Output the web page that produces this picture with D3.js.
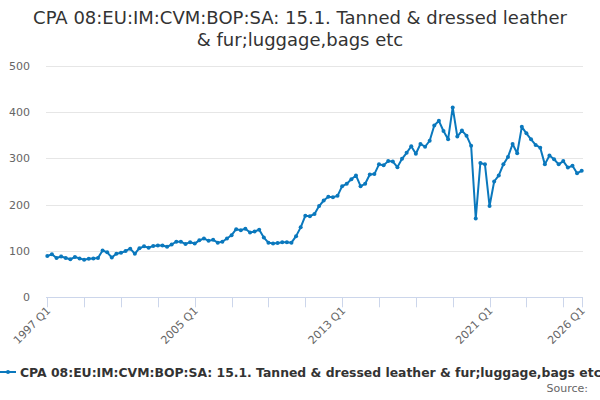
<!DOCTYPE html>
<html>
<head>
<meta charset="utf-8">
<script src="https://cdn.jsdelivr.net/npm/d3@7"></script>
<style>
  body { margin: 0; background: #fff; overflow: hidden; }
  svg { font-family: "DejaVu Sans", sans-serif; display: block; }
</style>
</head>
<body>
<div id="chart"></div>
<script>
const width = 600;
const height = 400;

const titleLines = [
  "CPA 08:EU:IM:CVM:BOP:SA: 15.1. Tanned & dressed leather",
  "& fur;luggage,bags etc"
];
const seriesName = "CPA 08:EU:IM:CVM:BOP:SA: 15.1. Tanned & dressed leather & fur;luggage,bags etc";

const startYear = 1997;
// quarterly values, 1997 Q1 onwards
const values = [
  89, 93, 85, 88, 85, 82, 87, 84, 81, 83, 84, 85,
  101, 97, 86, 94, 96, 100, 105, 94, 106, 110, 107, 111,
  112, 112, 109, 114, 120, 120, 115, 119, 116, 123, 127, 122,
  124, 118, 120, 127, 134, 147, 145, 148, 140, 142, 146, 129,
  118, 116, 117, 119, 119, 118, 132, 151, 176, 175, 180, 197,
  209, 217, 216, 219, 240, 245, 255, 263, 240, 245, 265, 266,
  287, 285, 294, 293, 281, 299, 312, 326, 310, 331, 325, 338,
  371, 381, 359, 341, 410, 347, 360, 349, 327, 170, 290, 287,
  197, 250, 263, 287, 303, 331, 311, 368, 354, 341, 329, 323,
  287, 306, 298, 287, 294, 280, 284, 268, 273
];
const yTicks = [0, 100, 200, 300, 400, 500];
const tickYears = [1997, 1999, 2001, 2003, 2005, 2007, 2009, 2011, 2013, 2015, 2017, 2019, 2021, 2023, 2025, 2026];
const labelYears = [1997, 2005, 2013, 2021, 2026];

const data = values.map((v, i) => ({ q: i, value: v }));
const qIndex = yr => (yr - startYear) * 4;

const plot = { left: 46, right: 583, top: 65.7, bottom: 297.3 };

const x = d3.scaleLinear()
  .domain([0, qIndex(2026)])
  .range([47.3, 581.7]);

const y = d3.scaleLinear()
  .domain([0, 500])
  .range([plot.bottom, plot.top]);

const svg = d3.select("#chart")
  .append("svg")
  .attr("width", width)
  .attr("height", height);

// title
svg.append("text")
  .attr("x", width / 2)
  .attr("text-anchor", "middle")
  .attr("fill", "#333333")
  .attr("font-size", "18px")
  .selectAll("tspan")
  .data(titleLines)
  .join("tspan")
  .attr("x", width / 2)
  .attr("y", (d, i) => 24 + i * 22)
  .text(d => d);

// gridlines
svg.append("g")
  .selectAll("line")
  .data(yTicks.filter(t => t > 0))
  .join("line")
  .attr("x1", plot.left)
  .attr("x2", plot.right)
  .attr("y1", d => Math.round(y(d)) + 0.5)
  .attr("y2", d => Math.round(y(d)) + 0.5)
  .attr("stroke", "#e6e6e6");

// y labels
svg.append("g")
  .selectAll("text")
  .data(yTicks)
  .join("text")
  .attr("x", 30)
  .attr("y", d => y(d) + 4)
  .attr("text-anchor", "end")
  .attr("fill", "#666666")
  .attr("font-size", "11px")
  .text(d => d);

// x axis
const xAxis = svg.append("g");
xAxis.append("line")
  .attr("x1", plot.left)
  .attr("x2", plot.right)
  .attr("y1", Math.round(plot.bottom) + 0.5)
  .attr("y2", Math.round(plot.bottom) + 0.5)
  .attr("stroke", "#ccd6eb");

xAxis.selectAll(".tick")
  .data(tickYears)
  .join("line")
  .attr("class", "tick")
  .attr("x1", d => Math.round(x(qIndex(d))) + 0.5)
  .attr("x2", d => Math.round(x(qIndex(d))) + 0.5)
  .attr("y1", plot.bottom)
  .attr("y2", plot.bottom + 10)
  .attr("stroke", "#ccd6eb");

xAxis.selectAll(".lbl")
  .data(labelYears)
  .join("text")
  .attr("class", "lbl")
  .attr("text-anchor", "end")
  .attr("fill", "#666666")
  .attr("font-size", "11px")
  .attr("transform", d => `translate(${x(qIndex(d)) + 4},${plot.bottom + 14}) rotate(-45)`)
  .text(d => `${d} Q1`);

// series line
const line = d3.line()
  .x(d => x(d.q))
  .y(d => y(d.value));

svg.append("path")
  .datum(data)
  .attr("fill", "none")
  .attr("stroke", "#0a78bd")
  .attr("stroke-width", 2)
  .attr("stroke-linejoin", "round")
  .attr("d", line);

svg.append("g")
  .selectAll("circle")
  .data(data)
  .join("circle")
  .attr("cx", d => x(d.q))
  .attr("cy", d => y(d.value))
  .attr("r", 2)
  .attr("fill", "#0a78bd");

// legend
const legend = svg.append("g").attr("transform", "translate(0,372)");
legend.append("line")
  .attr("x1", 0).attr("x2", 16)
  .attr("y1", 0).attr("y2", 0)
  .attr("stroke", "#0a78bd")
  .attr("stroke-width", 2);
legend.append("circle")
  .attr("cx", 8).attr("cy", 0).attr("r", 2)
  .attr("fill", "#0a78bd");
legend.append("text")
  .attr("x", 20)
  .attr("y", 4.5)
  .attr("fill", "#333333")
  .attr("font-size", "12.4px")
  .attr("font-weight", "bold")
  .text(seriesName);

svg.append("text")
  .attr("x", 588)
  .attr("y", 392)
  .attr("text-anchor", "end")
  .attr("fill", "#666666")
  .attr("font-size", "11px")
  .text("Source:");
</script>
</body>
</html>
